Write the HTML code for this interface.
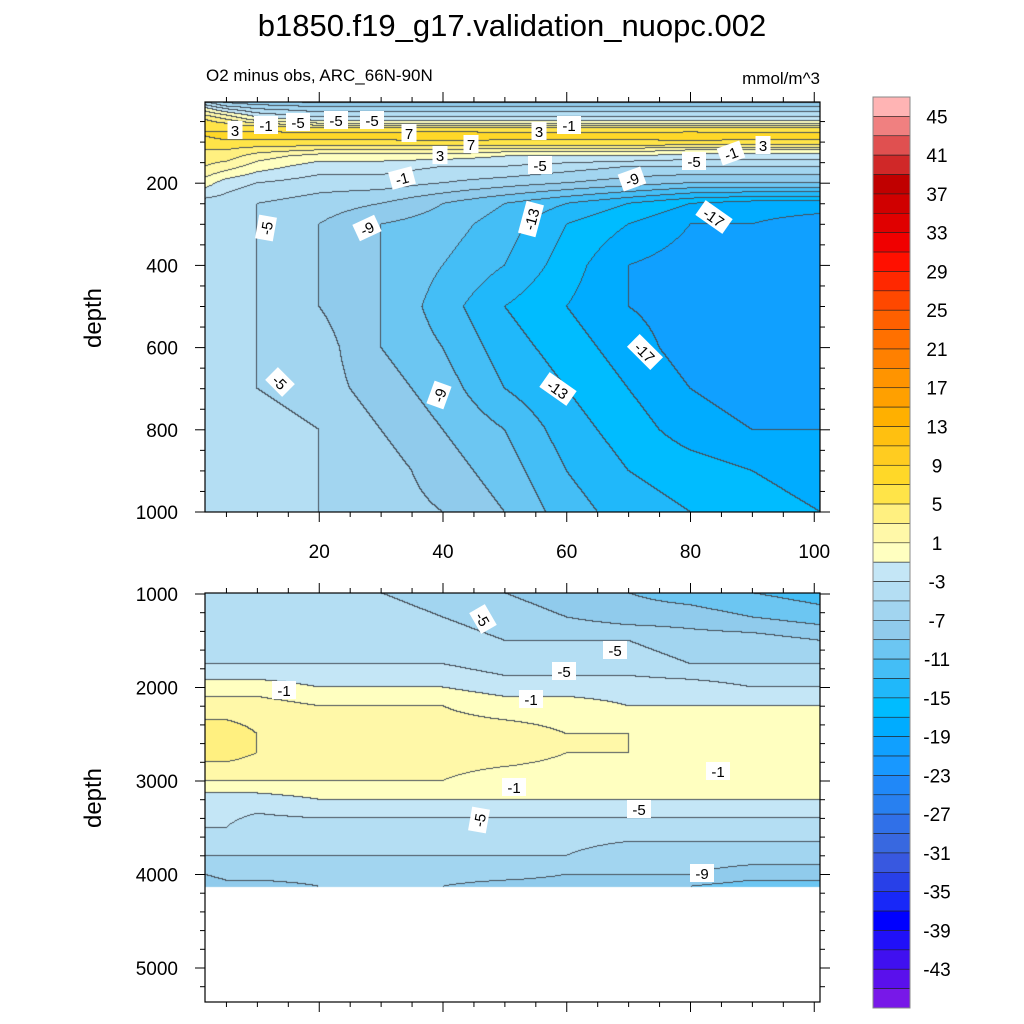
<!DOCTYPE html>
<html><head><meta charset="utf-8">
<style>
body{margin:0;background:#fff;width:1024px;height:1024px;overflow:hidden;position:relative;font-family:"Liberation Sans",sans-serif}
canvas{position:absolute}
svg{position:absolute;left:0;top:0}
</style></head>
<body>
<canvas id="topc" style="left:205px;top:102px" width="615" height="410"></canvas>
<canvas id="botc" style="left:205px;top:593px" width="615" height="409"></canvas>
<svg id="svg" width="1024" height="1024"></svg>
<script>
// ---- data ----
const xCols = [1.5,5,10,20,30,40,50,60,70,80,90,101];
const topDepths = [0,10,20,35,45,55,65,85,105,120,135,160,200,250,300,400,500,600,700,800,900,1000];
const topValues = [
[-6,-8,-9,-10,-10,-10,-10,-10,-10,-10,-10,-10],
[-3,-6,-7,-8,-8,-8,-8,-8,-8,-8,-8,-8],
[0,-3,-5,-6,-6,-6,-6,-6,-6,-6,-6,-6],
[3,1,-2,-4,-4,-4,-4,-4,-4,-4,-4,-4],
[5,3,0,-2,-2,-2,-2,-2,-2,-2,-2,-2],
[6,5,3,1,1,1,1,1,1,1,1,1],
[7,6,6,5,5,5,5,5,5,5,5,5],
[7,8,8,8,8,9,8,8,8,8.5,8,8],
[6,6,6,6,6,6,6,6,6,6,6,6],
[5,5,4,3,3,3,2,2,2,1,1,1],
[4,4,2,0,0,0,-1,-1,-1,-2,-2,-2],
[3,2,0,-2,-2,-3,-3,-4,-5,-5,-5,-5],
[0,-2,-3,-4,-4,-5,-6,-7,-8,-9,-9,-9],
[-4,-4,-5,-6,-7,-9,-11,-13,-15,-17,-18,-18],
[-4,-4,-5,-7,-9,-10,-12,-15,-17,-19,-19,-20],
[-4,-4,-5,-7,-9,-11,-13,-16,-19,-20,-20,-21],
[-4,-4,-5,-7,-9,-12,-15,-17,-19,-20,-20,-21],
[-4,-4,-5,-6,-9,-11,-14,-16,-18,-20,-20,-21],
[-4,-4,-5,-6,-8,-10,-13,-15,-17,-19,-20,-20],
[-4,-4,-4,-5,-7,-9,-11,-14,-16,-18,-19,-19],
[-4,-4,-4,-5,-6,-8,-10,-13,-15,-16,-17,-18],
[-4,-4,-4,-5,-6,-7,-9,-12,-14,-15,-16,-17]];
const botDepths = [989,1250,1500,1750,2000,2200,2500,2700,3000,3200,3500,3800,4000,4130];
const botValues = [
[-4,-4,-4,-4,-5,-6,-7,-8,-9,-10,-11,-12],
[-4,-4,-4,-4,-4,-5,-6,-7,-8,-8,-9,-10],
[-4,-4,-4,-4,-4,-4,-5,-5,-5,-6,-6,-7],
[-3,-3,-3,-3,-3,-3,-4,-4,-4,-5,-5,-5],
[0,0,0,-1,-1,-1,-2,-2,-2,-2,-3,-3],
[2,2,2,1,1,1,0,0,-1,-1,-1,-1],
[4,4,3,2,2,2,2,1,1,0,0,0],
[4,4,3,2,2,2,2,1,1,1,0,0],
[1,1,1,1,1,1,0,0,0,0,-1,-1],
[-2,-2,-2,-1,-1,-1,-1,-1,-1,-1,-1,-1],
[-3,-3,-4,-4,-4,-4,-4,-4,-4,-4,-4,-4],
[-5,-5,-5,-5,-5,-5,-5,-5,-6,-6,-6,-6],
[-7,-6,-6,-6,-6,-6,-6,-7,-7,-7,-8,-8],
[-9,-8,-8,-7,-7,-7,-8,-8,-9,-9,-10,-10]];
const cbarColors = ["#ffb4b4","#f08080","#e05050","#d02828","#c00000","#d00000","#e00000","#f00000","#ff1000","#ff2800","#ff4800","#ff6000","#ff7000","#ff8000","#ff9400","#ffa000","#ffb000","#ffc010","#ffcc20","#ffd828","#ffe448","#fff080","#fff8a8","#ffffc0","#c4e6f6","#b4def3","#a2d5f0","#90cbec","#6cc6f2","#44bef6","#20b8fa","#00bcff","#00acff","#10a0ff","#1898ff","#2088f8","#2880f0","#3070e8","#3868e0","#3858e0","#2840e8","#1828f8","#0000ff","#2010f8","#4010f0","#5a10ec","#7818e8"];
const cbarLabels = [45,41,37,33,29,25,21,17,13,9,5,1,-3,-7,-11,-15,-19,-23,-27,-31,-35,-39,-43];
const topYTicks = [200,400,600,800,1000];
const botYTicks = [1000,2000,3000,4000,5000];
const xTicks = [20,40,60,80,100];
const topLabels = [[235,130,"3",0],[266,125,"-1",0],[298,122,"-5",0],[336,120,"-5",0],[372,120,"-5",0],[409,133,"7",0],[471,144,"7",0],[440,155,"3",0],[539,131,"3",0],[569,125,"-1",0],[763,145,"3",0],[731,153,"-1",-20],[694,161,"-5",0],[540,165,"-5",0],[402,178,"-1",-15],[632,179,"-9",-20],[531,219,"-13",-75],[714,217,"-17",35],[266,228,"-5",-80],[367,228,"-9",-25],[280,382,"-5",45],[439,395,"-9",-70],[558,389,"-13",35],[645,352,"-17",45]];
const botLabels = [[483,619,"-5",60],[615,650,"-5",0],[564,671,"-5",0],[284,690,"-1",0],[531,699,"-1",0],[718,771,"-1",0],[514,787,"-1",0],[639,809,"-5",0],[479,820,"-5",-80],[702,873,"-9",0]];

// ---- drawing ----
const NS="http://www.w3.org/2000/svg";
const svg=document.getElementById('svg');
function el(tag,attrs,parent){const e=document.createElementNS(NS,tag);for(const k in attrs)e.setAttribute(k,attrs[k]);(parent||svg).appendChild(e);return e;}
function xPx(x){return 195.5+x*6.1875;}
function topY(d){return 101+d*0.411;}
function botY(d){return 594+(d-1000)*0.0935;}
function levelIdx(v){if(v>45)return 0;if(v<-45)return 46;return Math.max(1,Math.min(45,Math.ceil((45-v)/2)));}
function hex(c){return [parseInt(c.substr(1,2),16),parseInt(c.substr(3,2),16),parseInt(c.substr(5,2),16)];}
const rgb=cbarColors.map(hex);
function interp(arr,v){let i=0;while(i<arr.length-2&&v>arr[i+1])i++;let t=(v-arr[i])/(arr[i+1]-arr[i]);return [i,Math.max(0,Math.min(1,t))];}
function field(id,left,top,yInv,depths,vals,maxD){
  const cv=document.getElementById(id),ctx=cv.getContext('2d');const W=cv.width,H=cv.height;
  const img=ctx.createImageData(W,H);const idx=new Int16Array(W*H).fill(-1);
  for(let py=0;py<H;py++){const d=yInv(top+py+0.5);if(d>maxD)continue;const [j,tj]=interp(depths,d);
    for(let px=0;px<W;px++){const x=(left+px+0.5-195.5)/6.1875;const [i,ti]=interp(xCols,x);
      const v=(vals[j][i]*(1-ti)+vals[j][i+1]*ti)*(1-tj)+(vals[j+1][i]*(1-ti)+vals[j+1][i+1]*ti)*tj;
      idx[py*W+px]=levelIdx(v);}}
  for(let p=0;p<W*H;p++){const k=idx[p];const o=p*4;if(k<0){img.data[o]=255;img.data[o+1]=255;img.data[o+2]=255;img.data[o+3]=255;continue;}
    let c=rgb[k];const px=p%W,py=(p/W)|0;
    let edge=(px<W-1&&idx[p+1]>=0&&idx[p+1]!==k)||(py<H-1&&idx[p+W]>=0&&idx[p+W]!==k);
    if(edge)c=[70,80,90];
    img.data[o]=c[0];img.data[o+1]=c[1];img.data[o+2]=c[2];img.data[o+3]=255;}
  ctx.putImageData(img,0,0);
}
field('topc',205,102,y=>(y-101)/0.411,topDepths,topValues,1e9);
field('botc',205,593,y=>1000+(y-594)/0.0935,botDepths,botValues,4130);

// title
let t=el('text',{x:512,y:36,'text-anchor':'middle','font-size':31,fill:'#000',});t.textContent='b1850.f19_g17.validation_nuopc.002';
t=el('text',{x:206,y:81,'font-size':17,});t.textContent='O2 minus obs, ARC_66N-90N';
t=el('text',{x:820,y:84,'font-size':17,'text-anchor':'end',});t.textContent='mmol/m^3';

function frame(y0,y1,name){
  el('rect',{x:205,y:y0,width:615,height:y1-y0,fill:'none',stroke:'#000','stroke-width':1.2,});
  for(let x=5;x<=100;x+=5){const X=xPx(x);const L=x%20===0?10:5;
    el('line',{x1:X,x2:X,y1:y0,y2:y0-L,stroke:'#000'});el('line',{x1:X,x2:X,y1:y1,y2:y1+L,stroke:'#000'});}
}
frame(102,512,'top-panel-frame');
frame(593,1002,'bottom-panel-frame');
for(let d=50;d<=1000;d+=50){const Y=topY(d);const L=d%200===0?10:5;
  el('line',{x1:205,x2:205-L,y1:Y,y2:Y,stroke:'#000'});el('line',{x1:820,x2:820+L,y1:Y,y2:Y,stroke:'#000'});}
topYTicks.forEach(d=>{const t=el('text',{x:178,y:topY(d)+7,'text-anchor':'end','font-size':19,});t.textContent=d;});
for(let d=1000;d<=5400;d+=200){const Y=botY(d);if(Y<593||Y>1002)continue;const L=d%1000===0?10:5;
  el('line',{x1:205,x2:205-L,y1:Y,y2:Y,stroke:'#000'});el('line',{x1:820,x2:820+L,y1:Y,y2:Y,stroke:'#000'});}
botYTicks.forEach(d=>{const t=el('text',{x:178,y:botY(d)+7,'text-anchor':'end','font-size':19,});t.textContent=d;});
xTicks.forEach(x=>{const t=el('text',{x:xPx(x),y:558,'text-anchor':'middle','font-size':19,});t.textContent=x;});
t=el('text',{x:0,y:0,'font-size':24,'text-anchor':'middle',transform:'translate(101,318) rotate(-90)',});t.textContent='depth';
t=el('text',{x:0,y:0,'font-size':24,'text-anchor':'middle',transform:'translate(101,798) rotate(-90)',});t.textContent='depth';

function labels(arr){arr.forEach(a=>{const g=el('g',{transform:`translate(${a[0]},${a[1]}) rotate(${a[3]})`});
  
  const w=a[2].length*9+6;el('rect',{x:-w/2,y:-9,width:w,height:18,fill:'#fff'},g);
  const tt=el('text',{x:0,y:6,'text-anchor':'middle','font-size':15},g);tt.textContent=a[2];});}
labels(topLabels);labels(botLabels);

// colorbar
const cb0=97,cbH=911/47;
cbarColors.forEach((c,i)=>{const r=el('rect',{x:873,y:cb0+i*cbH,width:37,height:cbH,fill:c,stroke:'#222','stroke-width':0.6});
  });
el('rect',{x:873,y:cb0,width:37,height:911,fill:'none',stroke:'#888','stroke-width':1});
cbarLabels.forEach((v,k)=>{const Y=cb0+(1+2*k)*cbH;const t=el('text',{x:937,y:Y+7,'text-anchor':'middle','font-size':19,});t.textContent=v;});
</script>
</body></html>
